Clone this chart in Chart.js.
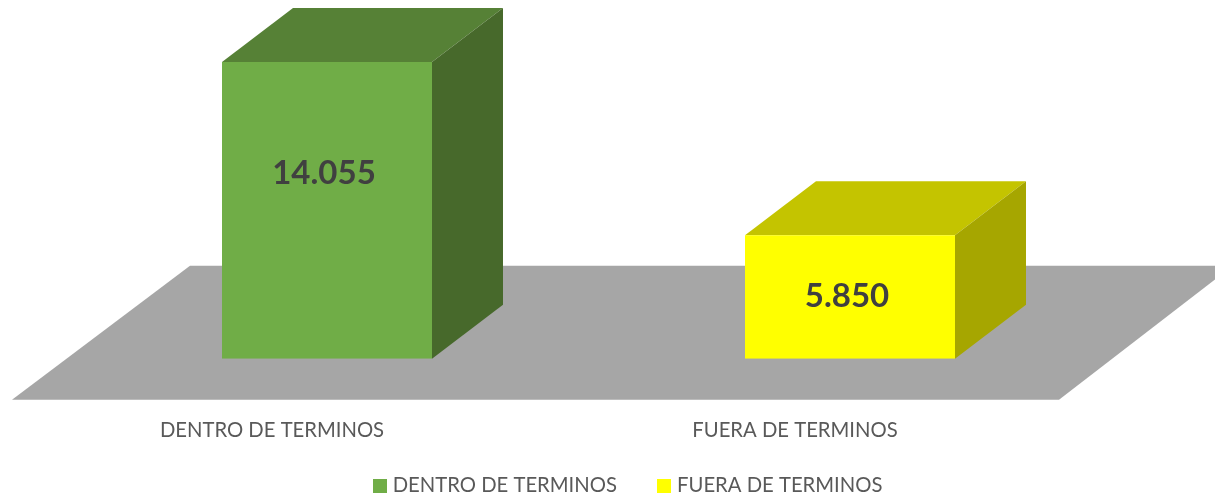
<!DOCTYPE html>
<html>
<head>
<meta charset="utf-8">
<style>html,body{margin:0;padding:0;background:#fff}#w{width:1215px;height:497px;position:relative}</style>
<script src="https://cdn.jsdelivr.net/npm/chart.js@4"></script>
</head>
<body>
<div id="w"><canvas id="c" width="1215" height="497"></canvas></div>
<script>
const categories = ['DENTRO DE TERMINOS', 'FUERA DE TERMINOS'];
const seriesNames = ['DENTRO DE TERMINOS', 'FUERA DE TERMINOS'];
const dentroValues = [14055, null];
const fueraValues = [null, 5850];
const frontColors = ['#70AD47', '#FFFF00'];
const topColors = ['#568136', '#C4C400'];
const sideColors = ['#47692B', '#A6A600'];
const labelLift = [37, 1];
const FLOOR = '#A6A6A6', DX = 71, DY = 54, FONT = 'Lato, "Open Sans", sans-serif';

function swatch(color) {
  const k = document.createElement('canvas');
  k.width = 14; k.height = 14;
  const g = k.getContext('2d');
  g.fillStyle = color; g.fillRect(0, 0, 14, 14);
  return k;
}
function poly(ctx, color, pts) {
  ctx.fillStyle = color;
  ctx.beginPath();
  pts.forEach((p, i) => i ? ctx.lineTo(p[0], p[1]) : ctx.moveTo(p[0], p[1]));
  ctx.closePath();
  ctx.fill();
}
const box3d = {
  id: 'box3d',
  afterLayout(chart) {
    chart.legend.left += 41;
    chart.legend.right += 41;
    chart.legend.top += 9;
    chart.legend.bottom += 9;
    chart.scales.x.bottom = chart.height;
  },
  beforeDatasetsDraw(chart) {
    const ctx = chart.ctx, a = chart.chartArea, base = chart.scales.y.getPixelForValue(0);
    const fl = a.left - 53.5, fr = a.right - 52.5, fb = base + 41, bb = base - 93;
    poly(ctx, FLOOR, [[fl, fb], [fr, fb], [fr + 174, bb], [fl + 178, bb]]);
    chart.data.datasets.forEach((d, i) => {
      chart.getDatasetMeta(i).data.forEach((b, j) => {
        if (d.data[j] == null) return;
        const l = b.x - b.width / 2, r = b.x + b.width / 2, t = b.y, o = b.base;
        poly(ctx, topColors[i], [[l, t], [r, t], [r + DX, t - DY], [l + DX, t - DY]]);
        poly(ctx, sideColors[i], [[r, t], [r + DX, t - DY], [r + DX, o - DY], [r, o]]);
      });
    });
  },
  afterDatasetsDraw(chart) {
    const ctx = chart.ctx;
    ctx.save();
    ctx.font = 'bold 33px ' + FONT;
    ctx.fillStyle = '#404040';
    ctx.textAlign = 'center';
    ctx.textBaseline = 'middle';
    chart.data.datasets.forEach((d, i) => {
      chart.getDatasetMeta(i).data.forEach((b, j) => {
        if (d.data[j] == null) return;
        ctx.fillText(d.data[j].toLocaleString('de-DE'), b.x - 3, (b.y + b.base) / 2 - labelLift[i]);
      });
    });
    ctx.restore();
  }
};
new Chart(document.getElementById('c'), {
  type: 'bar',
  data: {
    labels: categories,
    datasets: [
      { label: seriesNames[0], data: dentroValues, backgroundColor: frontColors[0], pointStyle: swatch(frontColors[0]) },
      { label: seriesNames[1], data: fueraValues, backgroundColor: frontColors[1], pointStyle: swatch(frontColors[1]) }
    ]
  },
  options: {
    responsive: false,
    animation: false,
    layout: { padding: { left: 65.5, right: 103.5, top: 21, bottom: 0 } },
    datasets: { bar: { grouped: false, barPercentage: 0.4015, categoryPercentage: 1 } },
    scales: {
      x: {
        grid: { display: false, drawTicks: false },
        border: { display: false },
        afterFit(s) { s.height = 64; },
        ticks: { color: '#595959', padding: 60, labelOffset: -55, maxRotation: 0, font: { family: FONT, size: 20.25 } }
      },
      y: { display: false, min: 0, max: 16000 }
    },
    plugins: {
      tooltip: { enabled: false },
      legend: {
        position: 'bottom',
        labels: {
          usePointStyle: true,
          pointStyleWidth: 6,
          padding: 44,
          color: '#595959',
          font: { family: FONT, size: 20.25 }
        }
      }
    }
  },
  plugins: [box3d]
});
</script>
</body>
</html>
